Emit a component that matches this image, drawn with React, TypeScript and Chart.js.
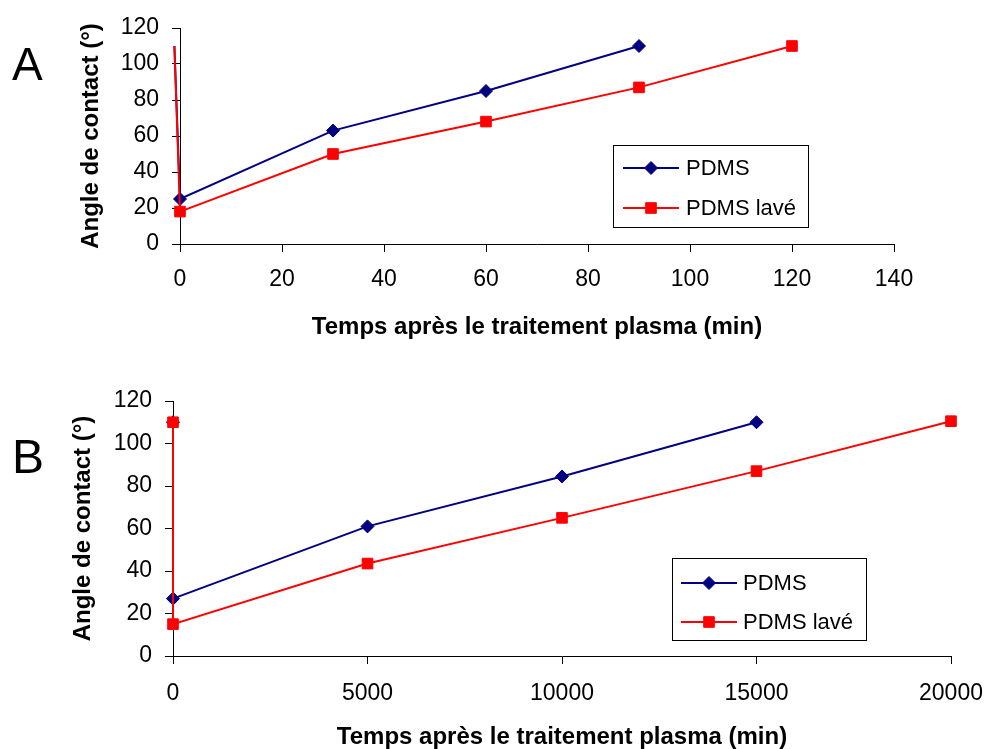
import React, { useEffect, useRef } from 'react';
import { Chart, registerables } from 'chart.js';

Chart.register(...registerables);

// ---------- data ----------
const SERIES_NAMES = ['PDMS', 'PDMS lavé'];
const SERIES_COLORS = ['#000080', '#FF0000'];

const A_PDMS_X = [-1.1, 0, 30, 60, 90];
const A_PDMS_Y = [110, 25, 63, 85, 110];
const A_LAVE_X = [-1.1, 0, 30, 60, 90, 120];
const A_LAVE_Y = [110, 18, 50, 68, 87, 110];

const B_PDMS_X = [0, 0, 5000, 10000, 15000];
const B_PDMS_Y = [110, 27, 61, 84.5, 110];
const B_LAVE_X = [0, 0, 5000, 10000, 15000, 20000];
const B_LAVE_Y = [110, 15, 43.5, 65, 87, 110.5];

const Y_TICKS = [0, 20, 40, 60, 80, 100, 120];
const A_X_TICKS = [0, 20, 40, 60, 80, 100, 120, 140];
const B_X_TICKS = [0, 5000, 10000, 15000, 20000];

const Y_TITLE = 'Angle de contact (°)';
const X_TITLE = 'Temps après le traitement plasma (min)';
const PANEL_LABELS = ['A', 'B'];

const FONT = "'Liberation Sans', Arial, sans-serif";
const TICK_SIZE = 23;
const TITLE_SIZE = 24;
const LEGEND_SIZE = 22;
const DIAMOND_R = 6.5;
const SQUARE_R = 7.5;

function drawMarker(ctx: CanvasRenderingContext2D, style: string, x: number, y: number, color: string) {
  ctx.save();
  ctx.fillStyle = color;
  ctx.strokeStyle = color;
  ctx.lineWidth = 1;
  ctx.beginPath();
  if (style === 'rectRot') {
    const r = DIAMOND_R;
    ctx.moveTo(x - r, y);
    ctx.lineTo(x, y - r);
    ctx.lineTo(x + r, y);
    ctx.lineTo(x, y + r);
    ctx.closePath();
  } else {
    const h = SQUARE_R * Math.SQRT1_2;
    ctx.rect(x - h, y - h, 2 * h, 2 * h);
  }
  ctx.fill();
  ctx.stroke();
  ctx.restore();
}

const overlayPlugin = {
  id: 'overlay',
  afterDraw(chart: any, _args: any, opts: any) {
    const ctx: CanvasRenderingContext2D = chart.ctx;
    ctx.save();
    // panel letter
    ctx.fillStyle = '#000';
    ctx.font = `${opts.letterSize}px ${FONT}`;
    ctx.textAlign = 'left';
    ctx.textBaseline = 'alphabetic';
    ctx.fillText(opts.letter, opts.letterX, opts.letterY);
    // legend
    const lg = opts.legend;
    ctx.strokeStyle = '#000';
    ctx.lineWidth = 1;
    ctx.strokeRect(lg.x + 0.5, lg.y + 0.5, lg.w, lg.h);
    const styles = ['rectRot', 'rect'];
    SERIES_NAMES.forEach((name, i) => {
      const yy = lg.rows[i];
      ctx.strokeStyle = SERIES_COLORS[i];
      ctx.lineWidth = 2;
      ctx.beginPath();
      ctx.moveTo(lg.x1, yy);
      ctx.lineTo(lg.x2, yy);
      ctx.stroke();
      drawMarker(ctx, styles[i], (lg.x1 + lg.x2) / 2, yy, SERIES_COLORS[i]);
      ctx.fillStyle = '#000';
      ctx.font = `${LEGEND_SIZE}px ${FONT}`;
      ctx.textBaseline = 'middle';
      ctx.fillText(name, lg.tx, yy + 1);
    });
    ctx.restore();
  },
};

function makeDataset(i: number, xs: number[], ys: number[], hideFirst: boolean) {
  return {
    label: SERIES_NAMES[i],
    data: xs.map((x, k) => ({ x, y: ys[k] })),
    borderColor: SERIES_COLORS[i],
    backgroundColor: SERIES_COLORS[i],
    borderWidth: 2,
    pointStyle: i === 0 ? 'rectRot' : 'rect',
    pointRadius: xs.map((_, k) => (hideFirst && k === 0 ? 0 : i === 0 ? DIAMOND_R : SQUARE_R)),
    pointBorderWidth: 1,
    pointBorderColor: SERIES_COLORS[i],
    pointBackgroundColor: SERIES_COLORS[i],
    tension: 0,
    clip: false,
    order: i === 0 ? 1 : 0,
  };
}

interface PanelCfg {
  pdmsX: number[];
  pdmsY: number[];
  laveX: number[];
  laveY: number[];
  xTicks: number[];
  hideFirst: boolean;
  padTop: number;
  padRight: number;
  yWidth: number;
  xHeight: number;
  yTitlePad: number;
  xTitlePad: number;
  xTickPad: number;
  overlay: any;
}

function buildConfig(p: PanelCfg): any {
  const xMin = p.xTicks[0];
  const xMax = p.xTicks[p.xTicks.length - 1];
  const xStep = p.xTicks[1] - p.xTicks[0];
  return {
    type: 'line',
    data: {
      datasets: [
        makeDataset(0, p.pdmsX, p.pdmsY, p.hideFirst),
        makeDataset(1, p.laveX, p.laveY, p.hideFirst),
      ],
    },
    options: {
      animation: false,
      responsive: false,
      maintainAspectRatio: false,
      events: [],
      layout: { padding: { left: 0, top: p.padTop, right: p.padRight, bottom: 0 } },
      plugins: {
        legend: { display: false },
        tooltip: { enabled: false },
        overlay: p.overlay,
      },
      scales: {
        x: {
          type: 'linear',
          min: xMin,
          max: xMax,
          afterFit: (s: any) => {
            s.height = p.xHeight;
            s.paddingLeft = 0;
            s.paddingRight = 0;
          },
          afterBuildTicks: (s: any) => {
            s.ticks = p.xTicks.map((v) => ({ value: v }));
          },
          ticks: {
            stepSize: xStep,
            color: '#000',
            font: { family: FONT, size: TICK_SIZE },
            padding: p.xTickPad,
            maxRotation: 0,
            autoSkip: false,
            callback: (v: any) => String(v),
          },
          grid: {
            display: true,
            drawOnChartArea: false,
            drawTicks: true,
            tickLength: 8,
            color: '#000',
          },
          border: { display: true, color: '#000', width: 1 },
          title: {
            display: true,
            text: X_TITLE,
            color: '#000',
            font: { family: FONT, size: TITLE_SIZE, weight: 'bold' },
            padding: { top: 0, bottom: p.xTitlePad },
          },
        },
        y: {
          type: 'linear',
          min: Y_TICKS[0],
          max: Y_TICKS[Y_TICKS.length - 1],
          afterFit: (s: any) => {
            s.width = p.yWidth;
            s.paddingTop = 0;
            s.paddingBottom = 0;
          },
          afterBuildTicks: (s: any) => {
            s.ticks = Y_TICKS.map((v) => ({ value: v }));
          },
          ticks: {
            stepSize: 20,
            color: '#000',
            font: { family: FONT, size: TICK_SIZE },
            padding: 13,
            callback: (v: any) => String(v),
          },
          grid: {
            display: true,
            drawOnChartArea: false,
            drawTicks: true,
            tickLength: 8,
            color: '#000',
          },
          border: { display: true, color: '#000', width: 1 },
          title: {
            display: true,
            text: Y_TITLE,
            color: '#000',
            font: { family: FONT, size: TITLE_SIZE, weight: 'bold' },
            padding: { top: p.yTitlePad, bottom: 0 },
          },
        },
      },
    },
    plugins: [overlayPlugin],
  };
}

function Panel({ cfg, width, height, top }: { cfg: PanelCfg; width: number; height: number; top: number }) {
  const ref = useRef<HTMLCanvasElement | null>(null);
  useEffect(() => {
    if (!ref.current) return;
    const chart = new Chart(ref.current, buildConfig(cfg));
    return () => chart.destroy();
  }, [cfg]);
  return (
    <canvas
      ref={ref}
      width={width}
      height={height}
      style={{ position: 'absolute', left: 0, top, width, height, display: 'block' }}
    />
  );
}

const PANEL_A: PanelCfg = {
  pdmsX: A_PDMS_X,
  pdmsY: A_PDMS_Y,
  laveX: A_LAVE_X,
  laveY: A_LAVE_Y,
  xTicks: A_X_TICKS,
  hideFirst: true,
  padTop: 28,
  padRight: 93,
  yWidth: 180,
  xHeight: 128,
  yTitlePad: 77,
  xTitlePad: 30,
  xTickPad: 14,
  overlay: {
    letter: PANEL_LABELS[0],
    letterSize: 46,
    letterX: 12,
    letterY: 80,
    legend: { x: 613, y: 145, w: 195, h: 82, rows: [168, 208], x1: 623, x2: 679, tx: 686 },
  },
};

const PANEL_B: PanelCfg = {
  pdmsX: B_PDMS_X,
  pdmsY: B_PDMS_Y,
  laveX: B_LAVE_X,
  laveY: B_LAVE_Y,
  xTicks: B_X_TICKS,
  hideFirst: false,
  padTop: 29,
  padRight: 36,
  yWidth: 173,
  xHeight: 93,
  yTitlePad: 69,
  xTitlePad: -3,
  xTickPad: 16,
  overlay: {
    letter: PANEL_LABELS[1],
    letterSize: 48,
    letterX: 12,
    letterY: 473 - 372,
    legend: { x: 672, y: 558 - 372, w: 194, h: 82, rows: [583 - 372, 622 - 372], x1: 681, x2: 737, tx: 743 },
  },
};

export default function App() {
  return (
    <div style={{ position: 'absolute', left: 0, top: 0, width: 987, height: 749, background: '#fff' }}>
      <Panel cfg={PANEL_A} width={987} height={372} top={0} />
      <Panel cfg={PANEL_B} width={987} height={377} top={372} />
    </div>
  );
}
